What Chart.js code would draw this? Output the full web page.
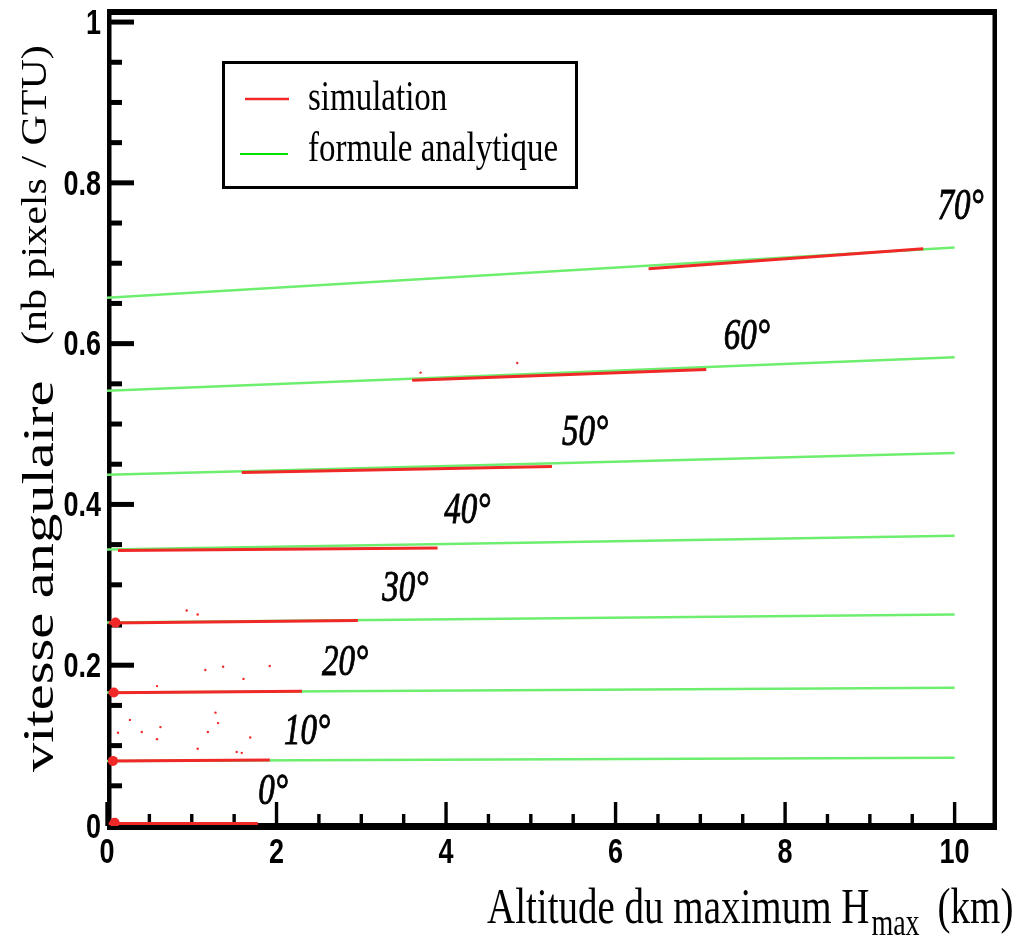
<!DOCTYPE html>
<html>
<head>
<meta charset="utf-8">
<script src="https://cdn.jsdelivr.net/npm/chart.js@4"></script>
<style>
  html, body { margin: 0; padding: 0; background: #fff; }
  canvas { display: block; }
</style>
</head>
<body>
<canvas id="grafico" width="1017" height="937"></canvas>
<script>
document.addEventListener("DOMContentLoaded", function () {

const angles = ['0°', '10°', '20°', '30°', '40°', '50°', '60°', '70°'];

// formule analytique : vitesse angulaire à H = 0 km et H = 10 km
const formuleH0 = [0, 0.081, 0.166, 0.253, 0.344, 0.437, 0.5415, 0.657];
const formuleH10 = [0, 0.085, 0.172, 0.263, 0.361, 0.464, 0.583, 0.7195];

// simulation : début et fin de chaque bande (altitude en km, vitesse)
const simDebutH = [0.02, 0.02, 0.02, 0.02, 0.13, 1.59, 3.6, 6.39];
const simFinH = [1.78, 1.92, 2.3, 2.96, 3.9, 5.25, 7.07, 9.63];
const simDebutV = [0.003, 0.081, 0.1656, 0.2525, 0.3427, 0.4398, 0.5545, 0.693];
const simFinV = [0.003, 0.0822, 0.1675, 0.2555, 0.3457, 0.4473, 0.5677, 0.718];

// points isolés de la simulation
const dispersH = [0.94, 1.07, 1.16, 1.37, 1.92, 1.61, 0.59, 1.28, 1.31, 0.63, 0.41, 0.59, 1.19, 1.69, 1.07, 1.53, 1.59, 0.13, 0.27, 4.84, 3.70];
const dispersV = [0.268, 0.263, 0.194, 0.198, 0.199, 0.183, 0.174, 0.141, 0.128, 0.123, 0.117, 0.108, 0.117, 0.110, 0.096, 0.092, 0.091, 0.116, 0.132, 0.576, 0.564];

// amas de points à très basse altitude
const amasH = [0.09, 0.07, 0.08, 0.10];
const amasV = [0.004, 0.081, 0.166, 0.253];

// position des étiquettes d'angle (km, vitesse)
const etiquetteH = [1.96, 2.36, 2.81, 3.52, 4.25, 5.64, 7.55, 10.07];
const etiquetteV = [0.042, 0.117, 0.203, 0.294, 0.391, 0.489, 0.608, 0.769];

const xTicks = [0, 2, 4, 6, 8, 10];
const yTicks = [0, 0.2, 0.4, 0.6, 0.8, 1];

const rouge = 'rgb(240, 40, 40)';
const vert = 'rgb(110, 238, 110)';

const datasets = [];
angles.forEach(function (a, i) {
    datasets.push({
        label: 'simulation ' + a,
        data: [{ x: simDebutH[i], y: simDebutV[i] }, { x: simFinH[i], y: simFinV[i] }],
        borderColor: rouge,
        borderWidth: 3,
        pointRadius: 0,
        order: 0
    });
    // à 0° la formule se confond avec l'axe
    if (formuleH10[i] > 0) {
        datasets.push({
            label: 'formule analytique ' + a,
            data: [{ x: 0, y: formuleH0[i] }, { x: 10, y: formuleH10[i] }],
            borderColor: vert,
            borderWidth: 2.5,
            pointRadius: 0,
            order: 2
        });
    }
});
datasets.push({
    type: 'scatter',
    label: 'simulation dispersée',
    data: dispersH.map((h, i) => ({ x: h, y: dispersV[i] })),
    backgroundColor: rouge,
    borderWidth: 0,
    pointRadius: 1.2,
    order: 1
});
datasets.push({
    type: 'scatter',
    label: 'simulation amas',
    data: amasH.map((h, i) => ({ x: h, y: amasV[i] })),
    backgroundColor: rouge,
    borderWidth: 0,
    pointRadius: 5,
    order: 1
});

function texte(ctx, txt, x, y, font, sy, align, base, gras) {
    ctx.save();
    ctx.translate(x, y);
    ctx.scale(1, sy);
    ctx.font = font;
    ctx.textAlign = align || 'left';
    ctx.textBaseline = base || 'alphabetic';
    ctx.fillText(txt, 0, 0);
    if (gras) {
        ctx.lineWidth = gras;
        ctx.strokeStyle = ctx.fillStyle;
        ctx.strokeText(txt, 0, 0);
    }
    ctx.restore();
}

function texteVertical(ctx, txt, x, y, font, sx) {
    ctx.save();
    ctx.translate(x, y);
    ctx.rotate(-Math.PI / 2);
    ctx.scale(sx, 1);
    ctx.font = font;
    ctx.textAlign = 'left';
    ctx.textBaseline = 'alphabetic';
    ctx.fillText(txt, 0, 0);
    ctx.restore();
}

// cadre et graduations sous les courbes
const cadre = {
    id: 'cadre',
    beforeDatasetsDraw(chart) {
        const ctx = chart.ctx;
        const ca = chart.chartArea;
        const sx = chart.scales.x;
        const sy = chart.scales.y;
        const w = ca.right - ca.left;
        const h = ca.bottom - ca.top;
        ctx.save();
        ctx.fillStyle = '#000';

        ctx.fillRect(ca.left, ca.top - 1, 4.5, h + 5);
        ctx.fillRect(ca.right - 4.5, ca.top - 1, 4.5, h + 5);
        ctx.fillRect(ca.left, ca.top - 1, w, 6);
        ctx.fillRect(ca.left, ca.bottom - 3, w, 7);

        for (let k = 0; k <= 20; k++) {
            const py = sy.getPixelForValue(k * 0.05);
            const long = (k % 4 === 0) ? 27 : 15;
            ctx.fillRect(ca.left, py - 2.5, long, 5);
        }
        for (let k = 0; k <= 20; k++) {
            const px = sx.getPixelForValue(k * 0.5);
            const long = (k % 4 === 0) ? 24 : 12;
            ctx.fillRect(px - 1.7, ca.bottom - long, 3.4, long);
        }
        ctx.restore();
    },
    afterDraw(chart) {
        const ctx = chart.ctx;
        const ca = chart.chartArea;
        const sx = chart.scales.x;
        const sy = chart.scales.y;
        ctx.save();
        ctx.fillStyle = '#000';

        const policeAxe = 'bold 27px "Liberation Sans", Arial, sans-serif';
        yTicks.forEach(function (v) {
            texte(ctx, String(v), ca.left - 6, sy.getPixelForValue(v) + 2, policeAxe, 1.32, 'right', 'middle');
        });
        xTicks.forEach(function (v) {
            texte(ctx, String(v), sx.getPixelForValue(v), ca.bottom + 27, policeAxe, 1.32, 'center', 'middle');
        });

        // titre de l'axe X avec indice
        const serif = '"Liberation Serif", "Times New Roman", serif';
        let x0 = 487;
        ctx.font = '39px ' + serif;
        texte(ctx, 'Altitude du maximum H', x0, 923, '39px ' + serif, 1.32);
        x0 += ctx.measureText('Altitude du maximum H').width + 2;
        ctx.font = '28px ' + serif;
        texte(ctx, 'max', x0, 935, '28px ' + serif, 1.32);
        x0 += ctx.measureText('max').width + 18;
        texte(ctx, '(km)', x0, 923, '39px ' + serif, 1.32);

        // titre de l'axe Y
        texteVertical(ctx, 'vitesse angulaire', 53, 772, '45px ' + serif, 1.3);
        texteVertical(ctx, '(nb pixels / GTU)', 46, 345, '35px ' + serif, 1.2);

        // étiquettes des angles
        angles.forEach(function (a, i) {
            texte(ctx, a, sx.getPixelForValue(etiquetteH[i]), sy.getPixelForValue(etiquetteV[i]),
                'italic 33px ' + serif, 1.35, 'center', 'middle', 0.7);
        });

        // légende
        ctx.fillStyle = '#000';
        ctx.fillRect(222, 61, 356, 3);
        ctx.fillRect(222, 186, 356, 3);
        ctx.fillRect(222, 61, 3, 128);
        ctx.fillRect(575, 61, 3, 128);
        ctx.strokeStyle = rouge;
        ctx.lineWidth = 2.5;
        ctx.beginPath();
        ctx.moveTo(245, 99);
        ctx.lineTo(289, 99);
        ctx.stroke();
        ctx.strokeStyle = 'rgb(0, 225, 0)';
        ctx.lineWidth = 2;
        ctx.beginPath();
        ctx.moveTo(240, 154);
        ctx.lineTo(288, 154);
        ctx.stroke();
        texte(ctx, 'simulation', 308, 110, '33px ' + serif, 1.25);
        texte(ctx, 'formule analytique', 308, 161, '33px ' + serif, 1.25);

        ctx.restore();
    }
};

const ctx = document.getElementById('grafico').getContext('2d');

const config = {
    type: 'line',
    data: { datasets: datasets },
    options: {
        responsive: false,
        animation: false,
        events: [],
        layout: { padding: { left: 107, right: 20, top: 10, bottom: 111 } },
        scales: {
            x: { type: 'linear', min: 0, max: 10.5, display: false },
            y: { type: 'linear', min: 0, max: 1.015, display: false }
        },
        plugins: {
            legend: { display: false },
            tooltip: { enabled: false },
            title: { display: false }
        }
    },
    plugins: [cadre]
};

const myChart = new Chart(ctx, config);

});
</script>
</body>
</html>
